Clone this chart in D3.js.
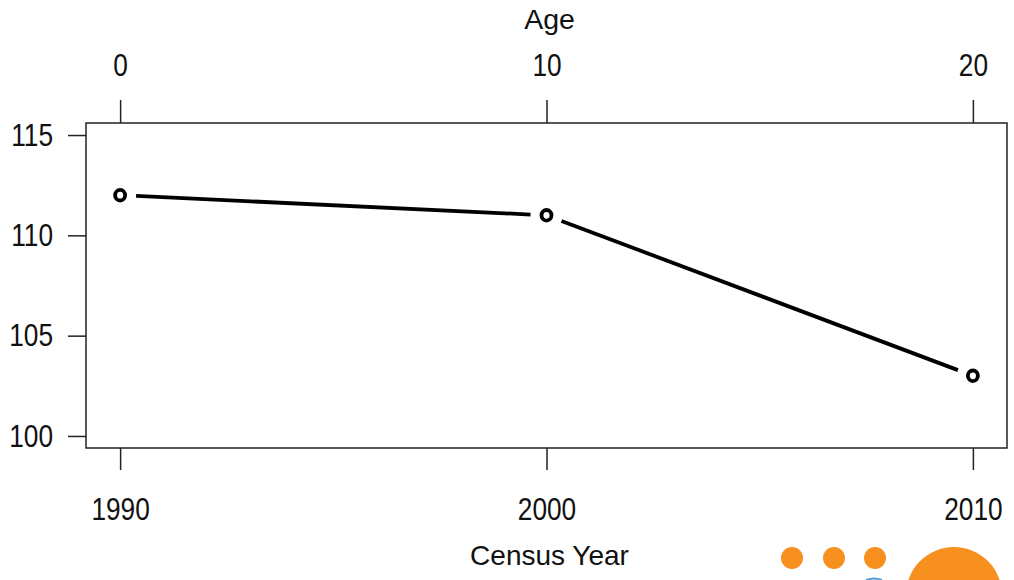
<!DOCTYPE html>
<html lang="en">
<head>
    <meta charset="UTF-8">
    <title>Census Year</title>
    <script src="https://d3js.org/d3.v7.min.js"></script>
    <style>
        body { margin: 0; background: #fff; }
        text { font-family: "Liberation Sans", Arial, sans-serif; fill: #111; }
    </style>
</head>
<body>
    <svg></svg>

    <script>
        const w = 1014;
        const h = 580;

        const years = [1990, 2000, 2010];
        const ages = [0, 10, 20];
        const values = [112, 111, 103];
        const yTicks = [100, 105, 110, 115];

        const box = {left: 86, right: 1007, top: 123, bottom: 448};

        const svg = d3.select("svg").attr("width", w).attr("height", h);

        // R style 4% padding on each side
        const x = d3.scaleLinear().domain([1989.2, 2010.8]).range([box.left, box.right]);
        const xAge = d3.scaleLinear().domain([-0.8, 20.8]).range([box.left, box.right]);
        const y = d3.scaleLinear().domain([99.4, 115.6]).range([box.bottom, box.top]);

        // frame
        svg.append("rect")
            .attr("x", box.left).attr("y", box.top)
            .attr("width", box.right - box.left).attr("height", box.bottom - box.top)
            .attr("fill", "none").attr("stroke", "#222").attr("stroke-width", 1.5);

        const styleAxis = g => {
            g.select(".domain").remove();
            g.selectAll(".tick line").attr("stroke", "#222").attr("stroke-width", 1.5);
            g.selectAll(".tick text")
                .attr("font-size", 32).attr("fill", "#111")
                .attr("font-family", "Liberation Sans, Arial, sans-serif")
                .each(function() {
                    // the digits in the picture are narrow
                    const len = this.getComputedTextLength();
                    d3.select(this).attr("textLength", len * 0.82).attr("lengthAdjust", "spacingAndGlyphs");
                });
        };

        svg.append("g")
            .attr("transform", `translate(0,${box.bottom})`)
            .call(d3.axisBottom(x).tickValues(years).tickFormat(d3.format("d")).tickSize(22).tickPadding(27))
            .call(styleAxis);

        svg.append("g")
            .attr("transform", `translate(0,${box.top})`)
            .call(d3.axisTop(xAge).tickValues(ages).tickSize(23).tickPadding(24))
            .call(styleAxis);

        svg.append("g")
            .attr("transform", `translate(${box.left},0)`)
            .call(d3.axisLeft(y).tickValues(yTicks).tickSize(18).tickPadding(15))
            .call(styleAxis);

        svg.append("text")
            .attr("x", (box.left + box.right) / 2 + 3).attr("y", 29)
            .attr("text-anchor", "middle").attr("font-size", 28.5)
            .text("Age");

        svg.append("text")
            .attr("x", (box.left + box.right) / 2 + 3).attr("y", 565)
            .attr("text-anchor", "middle").attr("font-size", 28)
            .text("Census Year");

        // line with gaps near the points (type = "b")
        const pts = years.map((yr, i) => [x(yr), y(values[i])]);
        const gap = 16;
        d3.pairs(pts).forEach(([a, b]) => {
            const dx = b[0] - a[0], dy = b[1] - a[1];
            const len = Math.hypot(dx, dy);
            const ux = dx / len, uy = dy / len;
            svg.append("line")
                .attr("x1", a[0] + ux * gap).attr("y1", a[1] + uy * gap)
                .attr("x2", b[0] - ux * gap).attr("y2", b[1] - uy * gap)
                .attr("stroke", "#000").attr("stroke-width", 3.8);
        });

        svg.selectAll("ellipse.pt")
            .data(values)
            .enter()
            .append("ellipse")
                .attr("class", "pt")
                .attr("cx", (d, i) => x(years[i]))
                .attr("cy", d => y(d))
                .attr("rx", 5)
                .attr("ry", 5.3)
                .attr("fill", "none")
                .attr("stroke", "#000")
                .attr("stroke-width", 3.8);

        // orange decoration in the corner
        const orange = "#f7901e";
        [792, 834, 875].forEach(cx => {
            svg.append("circle").attr("cx", cx).attr("cy", 558).attr("r", 11).attr("fill", orange);
        });
        svg.append("circle").attr("cx", 954).attr("cy", 595).attr("r", 48).attr("fill", orange);
        svg.append("path")
            .attr("d", "M866,580 A14,8 0 0 1 882,580")
            .attr("fill", "none").attr("stroke", "#5b9bd5").attr("stroke-width", 2);
    </script>
</body>
</html>
